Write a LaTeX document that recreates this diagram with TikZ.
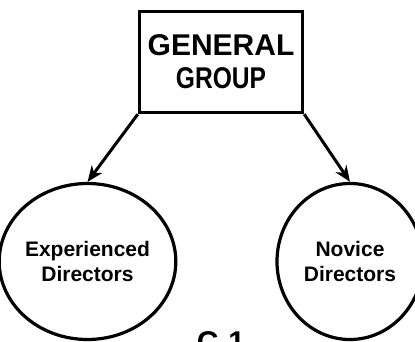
\documentclass[tikz,border=0pt]{standalone}
\usepackage{fontspec}
\setmainfont{Liberation Sans}
\usetikzlibrary{arrows.meta,shapes.geometric}
\begin{document}
\begin{tikzpicture}[x=1pt,y=-1pt,
  boxnode/.style={draw,line width=3.4pt,minimum width=163pt,minimum height=101pt,inner sep=0pt,align=center,font=\bfseries\fontsize{30}{33}\selectfont},
  grpnode/.style={draw,ellipse,line width=3.2pt,minimum width=146pt,minimum height=156pt,inner sep=0pt,align=center,font=\bfseries\fontsize{21}{25}\selectfont},
  conn/.style={line width=3pt,-{Stealth[length=16pt,width=13pt,inset=5pt]}},
  pagenum/.style={anchor=base,inner sep=0pt,font=\bfseries\fontsize{30}{32}\selectfont}]
\useasboundingbox (0,0) rectangle (415,342);
\node[boxnode] (gen) at (221,62) {GENERAL\\\scalebox{0.82}[1]{GROUP}};
\node[grpnode] (exp) at (87.5,261.5) {Experienced\\Directors};
\node[grpnode] (nov) at (350,261.5) {Novice\\Directors};
\draw[conn] (gen.south west) -- (exp.north);
\draw[conn] (gen.south east) -- (nov.north);
\begin{scope}
\clip (0,0) rectangle (415,342);
\node[pagenum] (pg) at (221,352) {C-1};
\end{scope}
\end{tikzpicture}
\end{document}
